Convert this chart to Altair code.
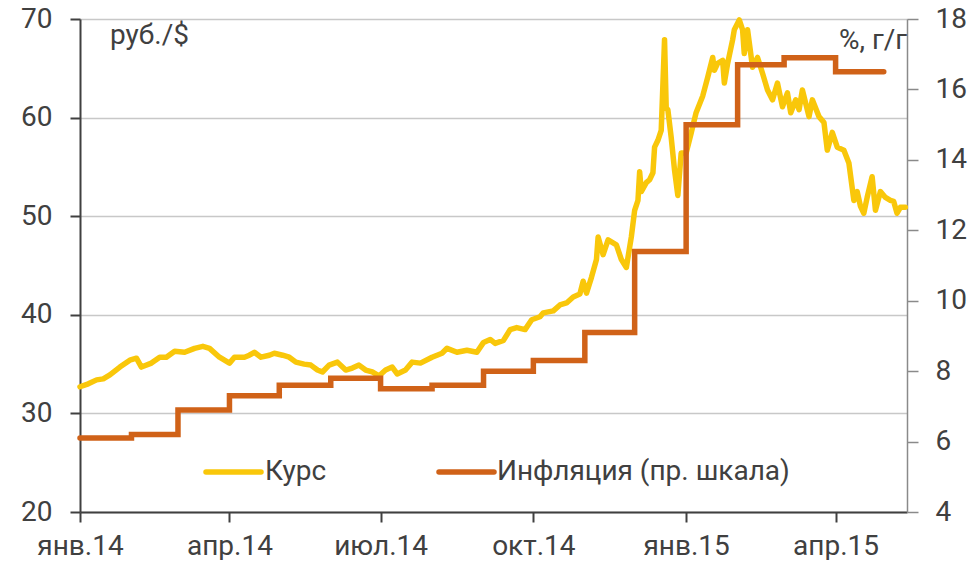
import altair as alt
import pandas as pd

# ---- data ----
# exchange rate, RUB per USD: days since 2014-01-01 and value
rate_day = [0, 5, 10, 14, 18, 24, 30, 34, 37, 43, 48, 52, 57, 63, 69, 74, 78, 84, 90, 93,
            99, 102, 105, 109, 114, 117, 122, 126, 130, 135, 139, 143, 146, 150, 155, 160,
            164, 168, 172, 176, 180, 184, 188, 191, 196, 200, 205, 212, 218, 221, 227, 233,
            239, 243, 247, 250, 255, 259, 263, 268, 272, 277, 279, 285, 289, 293, 297, 301,
            303, 305, 308, 311, 312, 315, 318, 321, 323, 326, 329, 332, 334, 336, 337, 338,
            341, 343, 345, 346, 348, 350, 352, 353, 354, 356, 358, 360, 362, 365, 368, 371,
            375, 378, 381, 382, 384, 387, 388, 390, 393, 394, 397, 399, 400, 402, 405, 408,
            411, 414, 417, 420, 423, 426, 428, 431, 433, 435, 439, 441, 445, 448, 450, 453,
            456, 460, 463, 466, 468, 470, 472, 474, 477, 479, 482, 485, 488, 490, 492, 494, 497]
rate_value = [32.7, 33.0, 33.4, 33.5, 33.9, 34.7, 35.4, 35.6, 34.7, 35.1, 35.7, 35.7, 36.3, 36.2,
              36.6, 36.8, 36.6, 35.7, 35.1, 35.7, 35.7, 35.9, 36.2, 35.7, 35.9, 36.1, 35.9, 35.7,
              35.2, 35.0, 34.9, 34.4, 34.2, 34.9, 35.2, 34.4, 34.6, 34.9, 34.4, 34.2, 33.8, 34.4,
              34.7, 34.0, 34.4, 35.2, 35.1, 35.7, 36.1, 36.6, 36.2, 36.4, 36.2, 37.2, 37.5, 37.1,
              37.4, 38.5, 38.7, 38.5, 39.5, 39.8, 40.2, 40.4, 41.0, 41.2, 41.8, 42.1, 43.4, 42.2,
              43.8, 45.6, 47.9, 46.1, 47.6, 47.3, 47.1, 45.6, 44.8, 47.9, 50.6, 51.6, 54.5, 52.5,
              53.4, 53.7, 54.4, 57.0, 57.7, 58.7, 67.9, 61.0, 60.8, 58.0, 54.7, 52.1, 56.4, 56.4,
              58.4, 60.5, 62.2, 64.1, 66.1, 64.8, 65.5, 65.8, 63.5, 65.5, 67.9, 68.9, 69.9, 68.9,
              66.5, 68.9, 65.1, 66.1, 64.5, 62.8, 61.8, 63.5, 61.1, 62.5, 60.5, 61.8, 60.8, 62.8,
              60.1, 61.8, 60.1, 59.5, 56.7, 58.5, 57.0, 56.7, 55.4, 51.6, 52.5, 51.0, 50.3, 51.9,
              54.0, 50.6, 52.5, 51.9, 51.6, 51.5, 50.3, 50.9, 50.9]

# inflation, % y/y, monthly (last entry closes the final step)
infl_date = ["2014-01-01", "2014-02-01", "2014-03-01", "2014-04-01", "2014-05-01", "2014-06-01",
             "2014-07-01", "2014-08-01", "2014-09-01", "2014-10-01", "2014-11-01", "2014-12-01",
             "2015-01-01", "2015-02-01", "2015-03-01", "2015-04-01", "2015-04-30"]
infl_value = [6.1, 6.2, 6.9, 7.3, 7.6, 7.8, 7.5, 7.6, 8.0, 8.3, 9.1, 11.4,
              15.0, 16.7, 16.9, 16.5, 16.5]

legend_labels = ["Курс", "Инфляция (пр. шкала)"]
left_unit = "руб./$"
right_unit = "%, г/г"
month_names = ["янв", "фев", "мар", "апр", "май", "июн", "июл", "авг", "сен", "окт", "ноя", "дек"]

# ---- tables ----
rate_df = pd.DataFrame({
    "date": (pd.Timestamp("2014-01-01") + pd.to_timedelta(rate_day, unit="D")).strftime("%Y-%m-%d"),
    "value": rate_value,
})
infl_df = pd.DataFrame({"date": infl_date, "value": infl_value})

YELLOW = "#F9C70A"
ORANGE = "#D06218"
TXT = "#404040"
FONT = "Roboto"
FS = 28

x_ticks = [alt.DateTime(year=y, month=m, date=1, utc=True)
           for (y, m) in [(2014, 1), (2014, 4), (2014, 7), (2014, 10), (2015, 1), (2015, 4)]]
names_js = "[" + ",".join("'%s'" % n for n in month_names) + "]"

x_enc = alt.X(
    "date:T",
    scale=alt.Scale(type="utc",
                    domain=[alt.DateTime(year=2014, month=1, date=1, utc=True),
                            alt.DateTime(year=2015, month=5, date=14, utc=True)]),
    axis=alt.Axis(values=x_ticks,
                  labelExpr=names_js + "[utcmonth(datum.value)] + '.' + utcFormat(datum.value, '%y')",
                  title=None, grid=False, domainColor=TXT, domainWidth=2,
                  tickColor=TXT, tickWidth=2, tickSize=10, labelPadding=10,
                  labelFont=FONT, labelFontSize=FS, labelColor=TXT,
                  labelFlush=False, labelOverlap=False),
)

rate_line = alt.Chart(rate_df).mark_line(color=YELLOW, strokeWidth=5.5, strokeJoin="round",
                                         strokeCap="round").encode(
    x=x_enc,
    y=alt.Y("value:Q",
            scale=alt.Scale(domain=[20, 70], nice=False, zero=False),
            axis=alt.Axis(values=[20, 30, 40, 50, 60, 70], orient="left", title=None,
                          grid=True, gridColor="#C8C8C8", gridWidth=1.5,
                          domainColor=TXT, domainWidth=2, tickColor=TXT, tickWidth=2,
                          tickSize=10, labelPadding=18, labelFont=FONT, labelFontSize=FS,
                          labelColor=TXT)),
)

infl_line = alt.Chart(infl_df).mark_line(color=ORANGE, strokeWidth=5.5, interpolate="step-after",
                                         strokeCap="round").encode(
    x=x_enc,
    y=alt.Y("value:Q",
            scale=alt.Scale(domain=[4, 18], nice=False, zero=False),
            axis=alt.Axis(values=[4, 6, 8, 10, 12, 14, 16, 18], orient="right", title=None,
                          grid=False, domainColor="#8A8A8A", domainWidth=1.5,
                          tickColor="#8A8A8A", tickWidth=1.5, tickSize=11, labelPadding=17,
                          labelFont=FONT, labelFontSize=FS, labelColor=TXT)),
)


def label_chart(text, x, y, align="left"):
    return alt.Chart(pd.DataFrame({"t": [text]})).mark_text(
        align=align, baseline="middle", font=FONT, fontSize=FS, color=TXT
    ).encode(text="t:N", x=alt.value(x), y=alt.value(y))


def legend_rule(color, x1, x2, y):
    return alt.Chart(pd.DataFrame({"t": [0]})).mark_rule(
        color=color, strokeWidth=5.5, strokeCap="round"
    ).encode(x=alt.value(x1), x2=alt.value(x2), y=alt.value(y))


leg = alt.layer(
    legend_rule(YELLOW, 126, 181, 453),
    label_chart(legend_labels[0], 185, 453),
    legend_rule(ORANGE, 359, 414, 453),
    label_chart(legend_labels[1], 417, 453),
    label_chart(left_unit, 30, 17),
    label_chart(right_unit, 827, 22, align="right"),
)

chart = alt.layer(rate_line, infl_line).resolve_scale(y="independent")
chart = alt.layer(chart, leg).properties(
    width=827, height=493,
    autosize=alt.AutoSizeParams(type="none"),
    padding={"left": 72, "top": 11, "right": 60, "bottom": 48},
).configure_view(stroke=None).configure(background="white")

chart.save("out.html", embed_options={"renderer": "svg", "actions": False})
